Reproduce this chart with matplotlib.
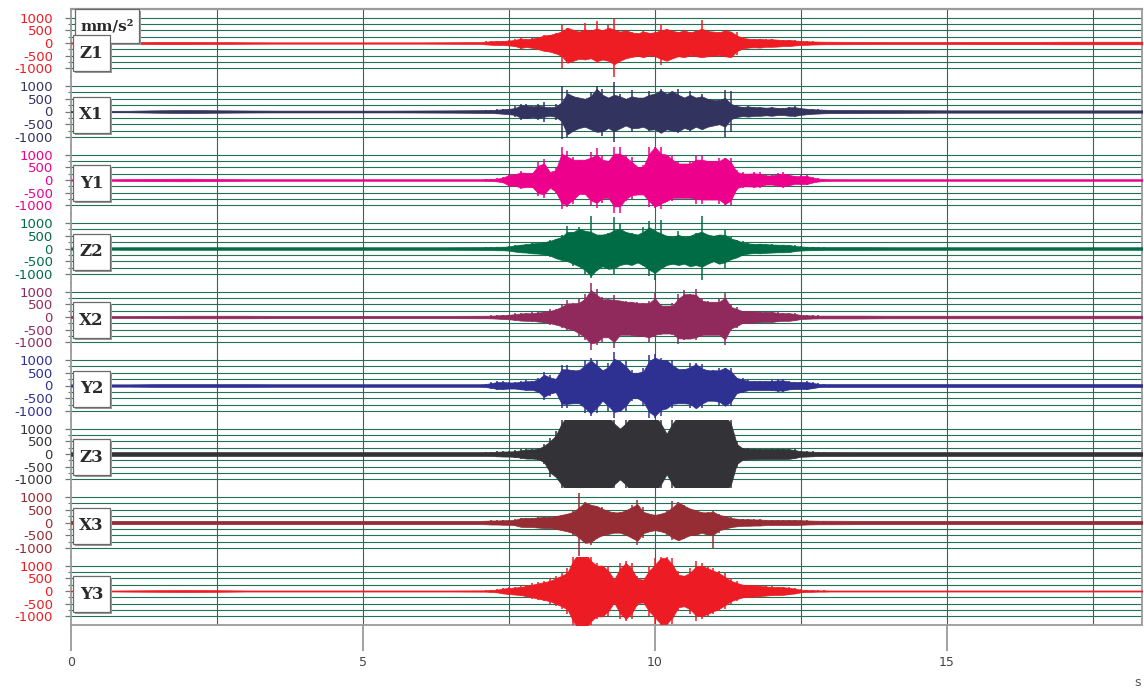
import matplotlib
matplotlib.use('Agg')
import matplotlib.pyplot as plt
import numpy as np
from matplotlib.patches import Rectangle

# sampling grid of the envelope readings (s)
T_LEFT = np.arange(0.0, 7.01, 0.5)
T_ACTIVE = np.round(np.arange(7.1, 12.91, 0.1), 1)
T_RIGHT = np.arange(13.0, 18.51, 0.5)

CHANNELS = ['Z1', 'X1', 'Y1', 'Z2', 'X2', 'Y2', 'Z3', 'X3', 'Y3']
COLORS = ['#ee1d24', '#333360', '#ec008c', '#006c45', '#902a5c',
          '#2e3192', '#333337', '#962c34', '#ed1c24']
# traces whose shaking looks like sparse tall spikes over a narrower body
SPIKY = ('Z1', 'X1', 'Z2', 'X3')

# peak amplitudes (mm/s²): quiet parts are symmetric,
# the shaking part has separate upper / lower peaks
Z1_LEFT = [25, 25, 40, 45, 45, 40, 30, 25, 25, 25, 25, 25, 25, 30, 45]
Z1_UP = [60, 70, 80, 80, 100, 160, 220, 150, 180, 250, 300, 320, 380, 700, 600,
         520, 450, 780, 480, 850, 500, 700, 980, 450, 520, 420, 380, 460, 400, 420,
         750, 550, 480, 430, 500, 420, 480, 900, 470, 450, 420, 500, 450, 420, 250,
         170, 150, 170, 140, 150, 130, 120, 120, 100, 80, 70, 60, 55, 50]
Z1_LO = [60, 70, 80, 80, 100, 170, 240, 160, 200, 260, 320, 340, 420, 1000, 780,
         700, 620, 650, 600, 800, 650, 700, 1330, 700, 600, 550, 500, 560, 480, 520,
         850, 700, 600, 520, 560, 480, 520, 560, 520, 500, 480, 520, 560, 480, 270,
         180, 170, 180, 150, 150, 140, 120, 120, 100, 80, 70, 60, 55, 50]
Z1_RIGHT = [50, 45, 40, 40, 40, 45, 45, 45, 50, 50, 50, 50]

X1_LEFT = [25, 25, 40, 60, 60, 55, 40, 35, 35, 35, 35, 35, 40, 45, 55]
X1_UP = [60, 60, 80, 90, 110, 200, 300, 280, 200, 300, 380, 160, 300, 1000, 850,
         600, 550, 500, 750, 1000, 900, 550, 1150, 700, 500, 850, 550, 550, 800, 700,
         900, 700, 800, 900, 550, 800, 550, 700, 500, 450, 450, 850, 800, 250, 180,
         200, 170, 170, 150, 170, 140, 140, 180, 200, 140, 110, 90, 80, 70]
X1_LO = [60, 60, 80, 90, 110, 200, 320, 280, 220, 320, 400, 170, 320, 1100, 1000,
         750, 650, 600, 700, 800, 950, 650, 1200, 700, 550, 800, 650, 600, 750, 700,
         850, 700, 750, 850, 650, 750, 600, 700, 600, 550, 500, 1000, 800, 250, 180,
         200, 170, 170, 150, 170, 140, 140, 180, 200, 140, 110, 90, 80, 70]
X1_RIGHT = [65, 60, 55, 50, 45, 45, 45, 45, 45, 45, 45, 45]

Y1_LEFT = [25, 25, 45, 55, 60, 50, 35, 30, 30, 30, 30, 30, 30, 30, 35]
Y1_UP = [40, 50, 70, 120, 250, 220, 370, 280, 290, 700, 820, 320, 480, 1300, 1150,
         900, 800, 800, 1100, 1250, 1000, 750, 1300, 1300, 970, 900, 520, 600, 1300, 1300,
         1300, 1000, 1000, 700, 650, 750, 1000, 1000, 750, 750, 880, 880, 880, 400, 300,
         250, 330, 300, 180, 200, 280, 300, 250, 150, 200, 200, 120, 70, 50]
Y1_LO = [40, 50, 70, 120, 270, 220, 370, 280, 300, 650, 700, 300, 570, 1150, 1050,
         960, 600, 550, 1000, 1100, 900, 700, 1300, 1300, 830, 750, 570, 600, 1050, 1100,
         1160, 830, 830, 700, 700, 700, 930, 930, 770, 770, 950, 1000, 1000, 400, 300,
         250, 330, 300, 180, 200, 280, 300, 250, 150, 200, 200, 120, 70, 50]
Y1_RIGHT = [40, 30, 30, 30, 30, 30, 30, 30, 30, 30, 30, 30]

Z2_LEFT = [45, 45, 50, 50, 50, 50, 50, 50, 50, 50, 50, 50, 50, 50, 55]
Z2_UP = [60, 60, 70, 70, 100, 150, 150, 170, 210, 220, 250, 330, 380, 550, 870,
         650, 830, 700, 1300, 550, 550, 600, 1230, 1000, 650, 600, 550, 830, 1070, 700,
         1130, 500, 450, 700, 450, 500, 600, 1300, 550, 500, 550, 740, 450, 330, 300,
         200, 180, 190, 170, 160, 150, 150, 140, 130, 80, 70, 65, 60, 55]
Z2_LO = [60, 60, 70, 70, 100, 150, 150, 160, 190, 200, 230, 350, 380, 450, 500,
         700, 700, 1000, 1170, 900, 700, 800, 1000, 650, 600, 650, 550, 700, 1100, 1240,
         800, 650, 600, 650, 600, 700, 650, 1240, 600, 500, 600, 750, 450, 350, 300,
         200, 180, 190, 170, 160, 150, 150, 140, 130, 80, 70, 65, 60, 55]
Z2_RIGHT = [55, 55, 50, 50, 50, 50, 50, 50, 50, 50, 50, 50]

X2_LEFT = [40, 40, 45, 50, 50, 50, 50, 50, 45, 45, 45, 45, 45, 50, 50]
X2_UP = [55, 60, 80, 90, 90, 140, 150, 150, 180, 200, 240, 300, 330, 500, 670,
         540, 700, 900, 1330, 1100, 800, 700, 850, 650, 650, 600, 600, 550, 650, 930,
         500, 450, 550, 900, 1050, 900, 1100, 750, 650, 600, 700, 950, 500, 400, 250,
         230, 230, 220, 200, 200, 200, 160, 150, 150, 90, 80, 70, 60, 55]
X2_LO = [55, 60, 80, 90, 90, 140, 150, 150, 180, 200, 240, 300, 330, 450, 510,
         520, 800, 900, 1300, 1100, 1000, 800, 1240, 700, 700, 750, 750, 750, 1000, 800,
         700, 650, 700, 1050, 900, 850, 900, 800, 700, 700, 700, 1100, 550, 450, 250,
         230, 230, 220, 200, 200, 200, 160, 150, 150, 90, 80, 70, 60, 55]
X2_RIGHT = [55, 55, 55, 50, 50, 50, 50, 50, 50, 50, 50, 50]

Y2_LEFT = [45, 45, 55, 55, 55, 55, 55, 55, 50, 50, 50, 50, 50, 50, 60]
Y2_UP = [70, 120, 170, 170, 120, 150, 180, 200, 170, 300, 530, 400, 260, 800, 800,
         600, 600, 1000, 1100, 1000, 600, 900, 1320, 950, 950, 600, 500, 700, 1200, 1250,
         1100, 1000, 1000, 650, 650, 880, 880, 850, 600, 600, 700, 700, 700, 300, 300,
         200, 180, 180, 180, 200, 250, 250, 180, 150, 140, 170, 130, 80, 60]
Y2_LO = [70, 120, 170, 170, 120, 150, 180, 200, 170, 300, 560, 400, 260, 900, 900,
         700, 700, 1100, 1200, 1100, 600, 1000, 1300, 1050, 1000, 600, 500, 800, 1300, 1300,
         1200, 900, 900, 700, 700, 900, 900, 900, 600, 600, 800, 800, 800, 300, 300,
         200, 180, 180, 180, 200, 250, 250, 180, 150, 140, 170, 130, 80, 60]
Y2_RIGHT = [55, 55, 55, 55, 55, 55, 55, 55, 55, 55, 55, 55]

Z3_LEFT = [70, 75, 75, 75, 75, 75, 75, 75, 75, 75, 75, 75, 75, 75, 75]
Z3_UP = [80, 90, 100, 100, 110, 140, 180, 180, 200, 250, 400, 620, 900, 1500, 1500,
         1500, 1500, 1500, 1500, 1500, 1500, 1500, 1500, 1000, 1500, 1500, 1500, 1500, 1500, 1500,
         1500, 800, 1500, 1500, 1500, 1500, 1500, 1500, 1500, 1500, 1500, 1500, 1500, 500, 220,
         220, 210, 210, 200, 200, 200, 200, 200, 190, 130, 110, 100, 90, 80]
Z3_LO = [80, 90, 100, 100, 110, 140, 180, 180, 200, 250, 400, 900, 900, 1500, 1500,
         1500, 1500, 1500, 1500, 1500, 1500, 1500, 1500, 1000, 1500, 1500, 1500, 1500, 1500, 1500,
         1500, 800, 1500, 1500, 1500, 1500, 1500, 1500, 1500, 1500, 1500, 1500, 1500, 500, 220,
         220, 210, 210, 200, 200, 200, 200, 200, 190, 130, 110, 100, 90, 80]
Z3_RIGHT = [80, 80, 75, 75, 75, 75, 75, 75, 75, 75, 75, 75]

X3_LEFT = [60, 65, 65, 65, 65, 65, 65, 65, 65, 65, 65, 65, 65, 65, 65]
X3_UP = [70, 80, 80, 90, 90, 150, 170, 180, 180, 200, 220, 220, 250, 300, 350,
         500, 1150, 800, 700, 650, 600, 450, 400, 400, 500, 700, 900, 600, 350, 300,
         350, 500, 850, 800, 700, 550, 500, 400, 400, 450, 350, 250, 220, 150, 130,
         130, 120, 120, 100, 100, 100, 100, 100, 100, 90, 80, 75, 70, 70]
X3_LO = [70, 80, 80, 90, 90, 150, 170, 180, 180, 200, 220, 220, 250, 300, 350,
         500, 1340, 800, 900, 650, 500, 450, 400, 400, 500, 600, 900, 600, 350, 300,
         350, 500, 700, 700, 650, 500, 500, 400, 500, 990, 400, 250, 220, 150, 130,
         130, 120, 120, 100, 100, 100, 100, 100, 100, 90, 80, 75, 70, 70]
X3_RIGHT = [70, 65, 65, 65, 65, 65, 65, 65, 65, 65, 65, 65]

Y3_LEFT = [15, 15, 30, 40, 40, 40, 25, 20, 20, 20, 20, 20, 20, 25, 25]
Y3_UP = [30, 50, 70, 120, 140, 160, 200, 250, 300, 350, 400, 500, 600, 700, 900,
         1500, 1500, 1500, 1500, 1100, 1000, 1000, 450, 1100, 1200, 1100, 600, 450, 1000, 1300,
         1500, 1500, 1300, 800, 600, 900, 1200, 1100, 1000, 900, 800, 700, 500, 400, 250,
         250, 230, 220, 200, 180, 160, 160, 150, 120, 60, 50, 40, 30, 25]
Y3_LO = [30, 50, 70, 120, 140, 160, 200, 250, 300, 350, 400, 500, 600, 700, 900,
         1500, 1500, 1500, 1500, 1100, 1000, 1000, 450, 1100, 1200, 1100, 600, 450, 1000, 1300,
         1500, 1500, 1300, 800, 600, 900, 1200, 1100, 1000, 900, 800, 700, 500, 400, 250,
         250, 230, 220, 200, 180, 160, 160, 150, 120, 60, 50, 40, 30, 25]
Y3_RIGHT = [25, 20, 20, 20, 20, 20, 20, 20, 20, 20, 20, 20]

TRACES = {
    'Z1': (Z1_LEFT, Z1_UP, Z1_LO, Z1_RIGHT),
    'X1': (X1_LEFT, X1_UP, X1_LO, X1_RIGHT),
    'Y1': (Y1_LEFT, Y1_UP, Y1_LO, Y1_RIGHT),
    'Z2': (Z2_LEFT, Z2_UP, Z2_LO, Z2_RIGHT),
    'X2': (X2_LEFT, X2_UP, X2_LO, X2_RIGHT),
    'Y2': (Y2_LEFT, Y2_UP, Y2_LO, Y2_RIGHT),
    'Z3': (Z3_LEFT, Z3_UP, Z3_LO, Z3_RIGHT),
    'X3': (X3_LEFT, X3_UP, X3_LO, X3_RIGHT),
    'Y3': (Y3_LEFT, Y3_UP, Y3_LO, Y3_RIGHT),
}

T_MAX = 18.34
Y_LIM = 1350
GRID = '#1f7354'
AXIS_GREY = '#9a9a9a'

W, H = 1144, 688
fig = plt.figure(figsize=(W / 100, H / 100), dpi=100, facecolor='white')
gs = fig.add_gridspec(len(CHANNELS), 1, left=71 / W, right=1142 / W,
                      top=1 - 8.75 / H, bottom=1 - 625.25 / H, hspace=0)
t_all = np.concatenate([T_LEFT, T_ACTIVE, T_RIGHT])


def _core(v, spiky):
    """Body of the trace under the peaks (running minimum over 3 samples)."""
    v = np.asarray(v, float)
    p = np.pad(v, 1, mode='edge')
    run_min = np.minimum(np.minimum(p[:-2], p[1:-1]), p[2:])
    if spiky:
        return np.minimum(v, 1.2 * run_min)
    return np.maximum(run_min, 0.8 * v)


def _label_box(ax, text, x0, y0, w, h, fontsize=12):
    """White framed label with a small drop shadow (axes coordinates)."""
    dx, dy = 2 / 1071, 2 / 68.5
    ax.add_patch(Rectangle((x0 + dx, y0 - dy), w, h, transform=ax.transAxes,
                           facecolor='#9b9b9b', edgecolor='none', zorder=8, clip_on=False))
    ax.add_patch(Rectangle((x0, y0), w, h, transform=ax.transAxes, facecolor='white',
                           edgecolor='#6a6a6a', lw=0.9, zorder=9, clip_on=False))
    ax.text(x0 + w / 2, y0 + h / 2, text, transform=ax.transAxes, ha='center',
            va='center', fontsize=fontsize, fontweight='bold', family='DejaVu Serif',
            color='#2a2a2a', zorder=10, clip_on=False)


for i, (name, col) in enumerate(zip(CHANNELS, COLORS)):
    ax = fig.add_subplot(gs[i])
    left, up, lo, right = TRACES[name]
    upper = np.concatenate([left, up, right])
    lower = np.concatenate([left, lo, right])
    spiky = name in SPIKY

    ax.set_xlim(0, T_MAX)
    ax.set_ylim(-Y_LIM, Y_LIM)
    for yv in range(-1000, 1001, 250):
        ax.axhline(yv, color=GRID, lw=0.8, zorder=1)
    for xv in np.arange(2.5, T_MAX, 2.5):
        ax.axvline(xv, color=GRID, lw=0.8, zorder=1)

    # body of the trace plus the individual peaks as thin spikes
    ax.fill_between(t_all, -_core(lower, spiky), _core(upper, spiky), color=col,
                    lw=0.5, edgecolor=col, zorder=3)
    ax.vlines(T_ACTIVE, -np.asarray(lo), up, color=col, lw=1.1, zorder=3)

    for side in ('top', 'bottom'):
        ax.spines[side].set_visible(False)
    for side in ('left', 'right'):
        ax.spines[side].set_color(AXIS_GREY)
        ax.spines[side].set_linewidth(1.3)
    if i == 0:
        ax.spines['top'].set_visible(True)
        ax.spines['top'].set_color(AXIS_GREY)
        ax.spines['top'].set_linewidth(1.6)

    ax.set_yticks([-1000, -500, 0, 500, 1000])
    ax.set_yticklabels(['-1000', '-500', '0', '500', '1000'])
    ax.set_yticks([-750, -250, 250, 750], minor=True)
    ax.tick_params(axis='y', which='major', direction='out', length=4, width=0.9,
                   color='#777777', pad=9, labelsize=9.5, labelcolor=col)
    ax.tick_params(axis='y', which='minor', direction='out', length=2.5, width=0.8,
                   color='#777777')

    if i == len(CHANNELS) - 1:
        ax.spines['bottom'].set_visible(True)
        ax.spines['bottom'].set_color(AXIS_GREY)
        ax.spines['bottom'].set_linewidth(1.3)
        ax.set_xticks([0, 5, 10, 15])
        ax.tick_params(axis='x', direction='out', length=19, width=1.3, color=AXIS_GREY,
                       pad=3, labelsize=9, labelcolor='#444444')
    else:
        ax.set_xticks([])

    if i == 0:
        _label_box(ax, 'mm/s²', 4 / 1071, 0.5, 64 / 1071, 0.49, fontsize=11)
        _label_box(ax, name, 2 / 1071, 0.09, 37 / 1071, 0.525)
    else:
        _label_box(ax, name, 2 / 1071, 0.19, 37 / 1071, 0.525)

fig.text(1138 / W, 1 - 682 / H, 's', color='#555555', fontsize=9, ha='center', va='center')

fig.savefig('out.png', dpi=100, facecolor='white')
